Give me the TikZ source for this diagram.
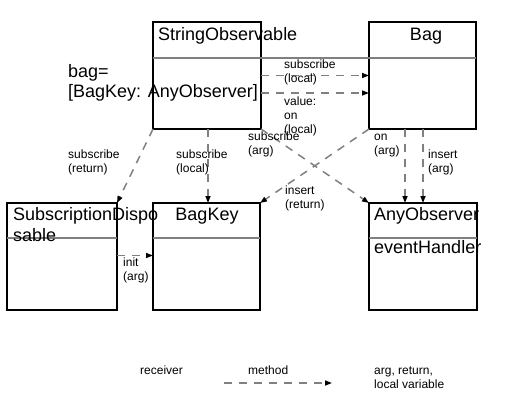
\documentclass[tikz,border=0pt]{standalone}
\usepackage{fontspec}
\setmainfont{Liberation Sans}
\usetikzlibrary{arrows.meta}
\definecolor{linegray}{RGB}{128,128,128}
\begin{document}
\begin{tikzpicture}[x=1pt,y=-1pt,
  box/.style={draw=black, line width=2.6pt, rectangle, inner sep=0pt, outer sep=0pt, anchor=north west},
  divider/.style={draw=linegray, line width=1.6pt},
  conn/.style={draw=linegray, line width=1.5pt, dash pattern=on 8pt off 7pt,
    -{Triangle[length=7pt,width=5pt,color=black]}, shorten >=0pt},
  lbl/.style={font=\fontsize{12}{14}\selectfont, align=left, inner sep=0pt, anchor=north west},
  big/.style={font=\fontsize{18}{21}\selectfont, align=left, inner sep=0pt, anchor=north west}]
\useasboundingbox (0,0) rectangle (526,401);
\fill[white] (0,0) rectangle (526,401);

% boxes
\node[box, minimum width=108pt, minimum height=107pt] (so) at (153,22) {};
\node[box, minimum width=107pt, minimum height=107pt] (bag) at (369,22) {};
\node[box, minimum width=110pt, minimum height=107pt] (sd) at (7,203) {};
\node[box, minimum width=107pt, minimum height=107pt] (bk) at (153,203) {};
\node[box, minimum width=108pt, minimum height=107pt] (ao) at (369,203) {};

% dividers
\draw[divider] ([yshift=-36pt]so.north west) -- ([yshift=-36pt]bag.north east);
\draw[divider] ([yshift=-35pt]sd.north west) -- ([yshift=-35pt]sd.north east);
\draw[divider] ([yshift=-35pt]bk.north west) -- ([yshift=-35pt]bk.north east);
\draw[divider] ([yshift=-35pt]ao.north west) -- ([yshift=-35pt]ao.north east);

% box texts
\node[big] (soT) at (158,25.3) {\strut StringObservable};
\node[big, anchor=north] (bagT) at (426,25.3) {\strut Bag};
\node[big, font=\fontsize{18}{20}\selectfont] (bagvar) at (68,63) {\strut bag=\\{[BagKey: AnyObserver]}};
\node[big] (sdT) at (13,205.3) {\strut SubscriptionDispo\\sable};
\node[big, anchor=north] (bkT) at (207,205.3) {\strut BagKey};
\node[big] (aoT) at (374,205.3) {\strut AnyObserver};
\node[big] (aoF) at (374,238.3) {\strut eventHandler};

% connectors
\draw[conn] ([yshift=-53.5pt]so.north east) -- ([yshift=-53.5pt]bag.north west);
\draw[conn] ([yshift=-71pt]so.north east) -- ([yshift=-71pt]bag.north west);
\draw[conn] ([xshift=55pt]so.south west) -- ([xshift=55pt]so.south west |- bk.north);
\draw[conn] (so.south west) -- (sd.north east);
\draw[conn] (so.south east) -- (ao.north west);
\draw[conn] (bag.south west) -- (bk.north east);
\draw[conn] ([xshift=36pt]bag.south west) -- ([xshift=36pt]bag.south west |- ao.north);
\draw[conn] ([xshift=54pt]bag.south west) -- ([xshift=54pt]bag.south west |- ao.north);
\draw[conn] ([yshift=-52.5pt]sd.north east) -- ([yshift=-52.5pt]sd.north east -| bk.west);

% connector labels
\node[lbl] (l1) at (284,58.2) {\strut subscribe\\(local)};
\node[lbl] (l2) at (284,95.2) {\strut value:\\on\\(local)};
\node[lbl] (l3) at (68,148.2) {\strut subscribe\\(return)};
\node[lbl] (l4) at (176,148.2) {\strut subscribe\\(local)};
\node[lbl] (l5) at (248,130.2) {\strut subscribe\\(arg)};
\node[lbl] (l6) at (374,130.2) {\strut on\\(arg)};
\node[lbl] (l7) at (428,148.2) {\strut insert\\(arg)};
\node[lbl] (l8) at (285,184.2) {\strut insert\\(return)};
\node[lbl] (l9) at (123,256.2) {\strut init\\(arg)};

% legend
\node[lbl] (lgR) at (140,364.2) {\strut receiver};
\node[lbl] (lgM) at (248,364.2) {\strut method};
\node[lbl] (lgA) at (374,364.2) {\strut arg, return,\\local variable};
\coordinate (lgS) at (224,383);
\coordinate (lgE) at (332,383);
\draw[conn] (lgS) -- (lgE);
\end{tikzpicture}
\end{document}
